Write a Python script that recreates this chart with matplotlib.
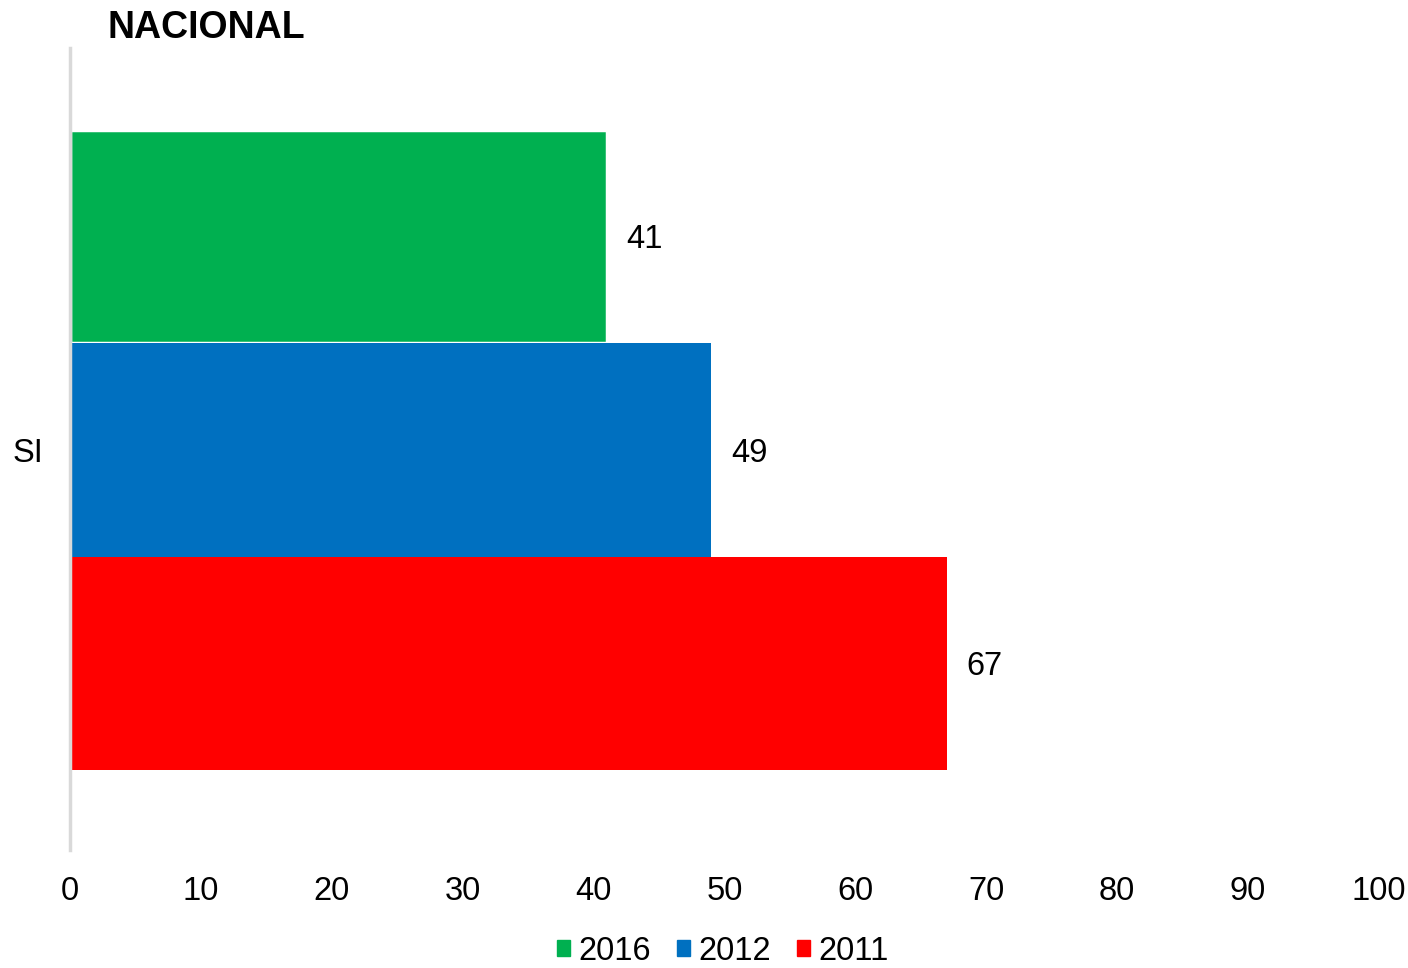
import matplotlib
matplotlib.use("Agg")
import matplotlib.pyplot as plt
from matplotlib.patches import Patch

plt.rcParams['font.family'] = ['Liberation Sans', 'DejaVu Sans']

category = "SI"
series = ["2016", "2012", "2011"]
values = [41, 49, 67]
colors = ["#00B050", "#0070C0", "#FF0000"]
xticks = list(range(0, 101, 10))

fig = plt.figure(figsize=(14.08, 9.68), dpi=100)
ax = fig.add_axes([70/1408, 1-850/968, (1379-70)/1408, (850-48)/968])

positions = [0, 1, 2]
for pos, v, c, s in zip(positions, values, colors, series):
    ec = "white" if s == "2016" else c
    lw = 2.5 if s == "2016" else 0
    ax.barh(pos, v, height=1.0, color=c, edgecolor=ec, linewidth=lw, label=s)
    ax.text(v + 1.5, pos, f"{v}", va="center_baseline", ha="left", fontsize=23.5)

ax.set_xlim(0, 100)
ax.set_ylim(2.874, -0.883)
ax.set_xticks(xticks)
ax.set_xticklabels([str(t) for t in xticks], fontsize=23.5)
ax.set_yticks([1])
ax.set_yticklabels([category], fontsize=23.5)
ax.tick_params(axis='both', length=0)
ax.tick_params(axis='x', pad=19)
ax.tick_params(axis='y', pad=19.5)
for sp in ["top", "right", "bottom"]:
    ax.spines[sp].set_visible(False)
ax.spines["left"].set_color("#d9d9d9")
ax.spines["left"].set_linewidth(2.5)

fig.text(108/1408, 1-28/968, "NACIONAL", fontsize=27, fontweight="bold", va="center", ha="left")

handles = [Patch(facecolor=c, edgecolor=c, label=s) for s, c in zip(series, colors)]
fig.legend(handles=handles, loc="center", bbox_to_anchor=(723/1408, 1-951/968), ncol=3,
           frameon=False, fontsize=23.5, handlelength=0.4, handleheight=0.4,
           handletextpad=0.25, columnspacing=0.8, borderpad=0)

fig.savefig("out.png", dpi=100)
